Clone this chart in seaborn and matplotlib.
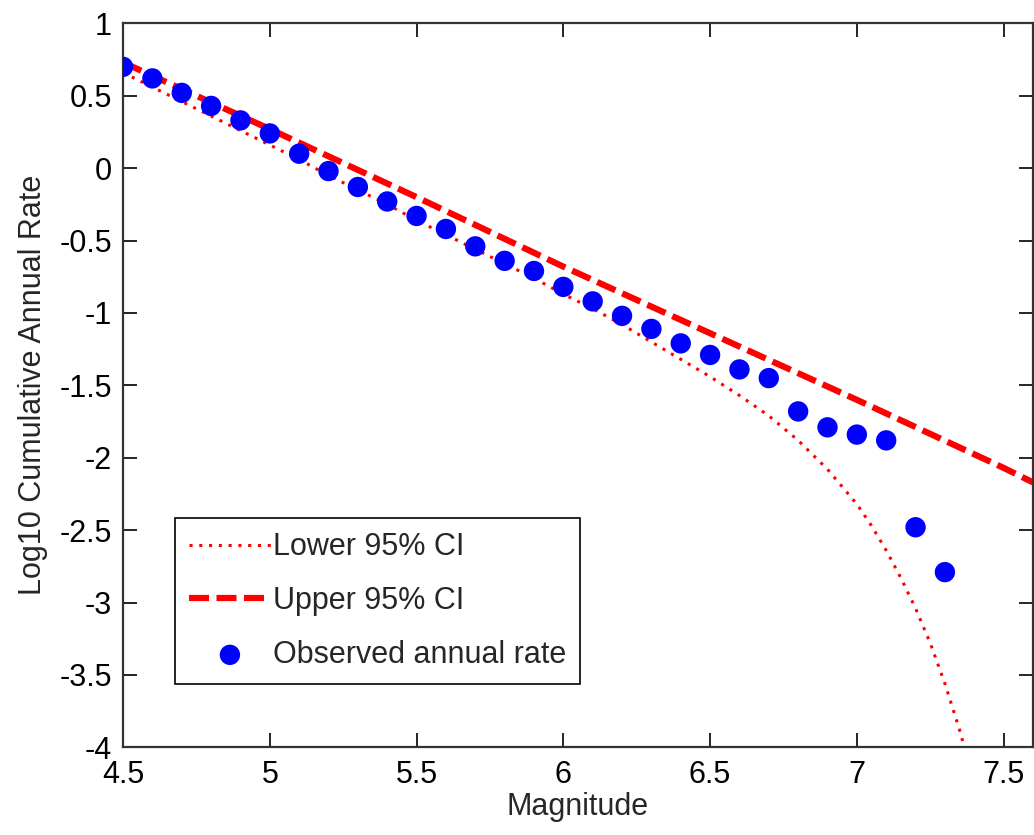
import numpy as np
import pandas as pd
import matplotlib
matplotlib.use("Agg")
import matplotlib.pyplot as plt
import seaborn as sns

# Observed cumulative annual rate (log10)
obs_mag = [4.5, 4.6, 4.7, 4.8, 4.9, 5.0, 5.1, 5.2, 5.3, 5.4, 5.5, 5.6, 5.7, 5.8, 5.9,
           6.0, 6.1, 6.2, 6.3, 6.4, 6.5, 6.6, 6.7, 6.8, 6.9, 7.0, 7.1, 7.2, 7.3]
obs_rate = [0.70, 0.62, 0.52, 0.43, 0.33, 0.24, 0.10, -0.02, -0.13, -0.23, -0.33, -0.42,
            -0.54, -0.64, -0.71, -0.82, -0.92, -1.02, -1.11, -1.21, -1.29, -1.39, -1.45,
            -1.68, -1.79, -1.84, -1.88, -2.48, -2.79]

# Upper 95% CI
upper_mag = [4.5, 5.0, 5.5, 6.0, 6.5, 7.0, 7.5, 7.6]
upper_rate = [0.73, 0.27, -0.20, -0.68, -1.14, -1.60, -2.07, -2.17]

# Lower 95% CI
lower_mag = [4.5, 4.6, 4.7, 4.8, 4.9, 5.0, 5.1, 5.2, 5.3, 5.4, 5.5, 5.6, 5.7, 5.8, 5.9,
             6.0, 6.1, 6.2, 6.3, 6.4, 6.5, 6.6, 6.7, 6.8, 6.9, 7.0, 7.05, 7.1, 7.15,
             7.2, 7.25, 7.3, 7.35, 7.4]
lower_rate = [0.66, 0.56, 0.46, 0.36, 0.26, 0.16, 0.06, -0.05, -0.15, -0.25, -0.36, -0.46,
              -0.56, -0.66, -0.76, -0.87, -0.97, -1.08, -1.20, -1.32, -1.44, -1.57, -1.71,
              -1.88, -2.08, -2.32, -2.47, -2.64, -2.83, -3.04, -3.28, -3.56, -3.88, -4.25]

x_ticks = [4.5, 5, 5.5, 6, 6.5, 7, 7.5]
x_tick_labels = ["4.5", "5", "5.5", "6", "6.5", "7", "7.5"]
y_ticks = [-4, -3.5, -3, -2.5, -2, -1.5, -1, -0.5, 0, 0.5, 1]
y_tick_labels = ["-4", "-3.5", "-3", "-2.5", "-2", "-1.5", "-1", "-0.5", "0", "0.5", "1"]

sns.set_theme(style="ticks")
plt.rcParams["font.family"] = ["Liberation Sans", "DejaVu Sans"]
plt.rcParams["axes.unicode_minus"] = False

FS = 22

fig = plt.figure(figsize=(10.34, 8.35), dpi=100)
ax = fig.add_axes([0.119, 0.105, 0.880, 0.867])

lower_df = pd.DataFrame({"m": lower_mag, "r": lower_rate})
upper_df = pd.DataFrame({"m": upper_mag, "r": upper_rate})
obs_df = pd.DataFrame({"m": obs_mag, "r": obs_rate})

sns.lineplot(data=lower_df, x="m", y="r", ax=ax, color="#ff0000", linewidth=2.2,
             linestyle=(0, (1.0, 2.2)), label="Lower 95% CI", sort=False)
sns.lineplot(data=upper_df, x="m", y="r", ax=ax, color="#ff0000", linewidth=4.5,
             linestyle=(0, (3.2, 1.2)), label="Upper 95% CI", sort=False)
sns.scatterplot(data=obs_df, x="m", y="r", ax=ax, color="#0000ff", s=215,
                marker="o", edgecolor="none", linewidth=0, label="Observed annual rate",
                zorder=3)

ax.set_xlim(4.5, 7.6)
ax.set_ylim(-4, 1)
ax.set_xticks(x_ticks)
ax.set_xticklabels(x_tick_labels)
ax.set_yticks(y_ticks)
ax.set_yticklabels(y_tick_labels)

ax.set_xlabel("Magnitude", fontsize=FS)
ax.set_ylabel("Log10 Cumulative Annual Rate", fontsize=FS)
ax.xaxis.set_label_coords(0.5, -0.062)
ax.yaxis.set_label_coords(-0.083, 0.5)

ax.tick_params(direction="in", length=10, width=1.2, labelsize=FS, colors="black",
               top=True, right=True)
ax.tick_params(axis="x", pad=9)
ax.tick_params(axis="y", pad=8)
for side in ["left", "right", "top", "bottom"]:
    ax.spines[side].set_visible(True)
    ax.spines[side].set_linewidth(1.6)
    ax.spines[side].set_color("#333333")

leg = ax.legend(loc="lower left", bbox_to_anchor=(0.057, 0.088), fontsize=FS,
                frameon=True, fancybox=False, edgecolor="black", framealpha=1,
                handlelength=2.7, handletextpad=0.05, borderpad=0.45, labelspacing=0.78,
                borderaxespad=0)
leg.get_frame().set_linewidth(1.2)

fig.savefig("out.png", dpi=100)
